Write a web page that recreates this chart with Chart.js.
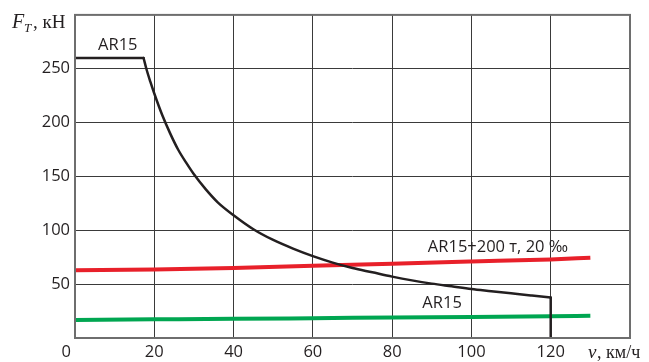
<!DOCTYPE html>
<html><head><meta charset="utf-8">
<script src="https://cdn.jsdelivr.net/npm/chart.js@4"></script>
<style>html,body{margin:0;padding:0;background:#fff}#w{width:649px;height:362px}</style>
</head><body><div id="w"><canvas id="c" width="649" height="362"></canvas></div>
<script>
const xTicks = [20, 40, 60, 80, 100, 120];
const yTicks = [50, 100, 150, 200, 250];
const blackX = [0, 17.3, 18, 19, 20, 22, 24, 26, 28, 30, 33, 36, 40, 45, 50, 55, 60, 65, 70, 75, 80, 85, 90, 95, 100, 105, 110, 115, 120, 120];
const blackY = [260, 260, 250, 238, 227, 207, 190, 175, 163, 152, 138, 126, 114, 101, 91, 83, 76, 70, 65, 61, 57, 53.5, 50.5, 48, 45.5, 43.5, 41.5, 39.5, 37.5, 0];
const redX = [0, 20, 40, 60, 80, 100, 120, 130];
const redY = [63, 63.5, 65, 67, 69, 71, 73, 74.6];
const greenX = [0, 20, 40, 60, 80, 100, 120, 130];
const greenY = [16.8, 17.3, 17.8, 18.4, 19, 19.6, 20.2, 20.7];
const labels = [
  {text: 'AR15', x: 10.8, y: 272},
  {text: 'AR15+200 т, 20 ‰', x: 106.7, y: 84.5},
  {text: 'AR15', x: 92.6, y: 32}
];
const pts = (xs, ys) => xs.map((x, i) => ({x, y: ys[i]}));
const blackPts = pts(blackX, blackY);
const n = blackPts.length;
const FONT = '"Open Sans", "Liberation Sans", sans-serif';

const overlay = {
  id: 'overlay',
  afterDraw(chart) {
    const {ctx, chartArea: a, scales: {x, y}} = chart;
    ctx.save();
    ctx.strokeStyle = '#6e6e6e';
    ctx.lineWidth = 2;
    ctx.strokeRect(a.left, a.top, a.right - a.left, a.bottom - a.top);
    ctx.fillStyle = '#231f20';
    ctx.font = '16.5px ' + FONT;
    ctx.textAlign = 'center';
    ctx.textBaseline = 'middle';
    labels.forEach(l => ctx.fillText(l.text, x.getPixelForValue(l.x), y.getPixelForValue(l.y)));
    ctx.textAlign = 'right';
    ctx.fillText('0', a.left - 4, a.bottom + 14);
    ctx.textAlign = 'left';
    ctx.font = 'italic 20px "Liberation Serif", serif';
    ctx.fillText('F', 12, 23);
    ctx.font = 'italic 13px "Liberation Serif", serif';
    ctx.fillText('T', 24, 29);
    ctx.font = '19px "Liberation Serif", serif';
    ctx.fillText(', кН', 33, 23);
    ctx.font = 'italic 19px "Liberation Serif", serif';
    ctx.fillText('ν', 588, 353);
    ctx.font = '18px "Liberation Serif", serif';
    ctx.fillText(', км/ч', 597, 353);
    ctx.restore();
  }
};

const blk = {borderColor: '#231f20', borderWidth: 2.5, showLine: true, pointRadius: 0, borderCapStyle: 'round', borderJoinStyle: 'round'};
new Chart(document.getElementById('c'), {
  type: 'scatter',
  data: {
    datasets: [
      Object.assign({data: blackPts.slice(0, 2), tension: 0}, blk),
      Object.assign({data: blackPts.slice(1, n - 1), cubicInterpolationMode: 'monotone'}, blk),
      Object.assign({data: blackPts.slice(n - 2), tension: 0}, blk),
      {data: pts(redX, redY), borderColor: '#e8202a', borderWidth: 4, showLine: true, pointRadius: 0, cubicInterpolationMode: 'monotone'},
      {data: pts(greenX, greenY), borderColor: '#00a651', borderWidth: 4, showLine: true, pointRadius: 0, cubicInterpolationMode: 'monotone'}
    ]
  },
  options: {
    responsive: false,
    animation: false,
    layout: {padding: {top: 12, right: 19, left: 0, bottom: 0}},
    plugins: {legend: {display: false}, tooltip: {enabled: false}},
    scales: {
      x: {
        type: 'linear', min: 0, max: 140,
        afterBuildTicks: s => { s.ticks = [0, ...xTicks, 140].map(v => ({value: v})); },
        afterFit: s => { s.height = 24; },
        grid: {color: '#3a3a3a', lineWidth: 1, drawTicks: false},
        border: {display: false},
        ticks: {
          callback: v => xTicks.includes(v) ? String(v) : '',
          color: '#231f20', padding: 4, maxRotation: 0,
          font: {size: 16.5, family: FONT}
        }
      },
      y: {
        min: 0, max: 300,
        afterBuildTicks: s => { s.ticks = [0, ...yTicks, 300].map(v => ({value: v})); },
        afterFit: s => { s.width = 75; },
        grid: {color: '#3a3a3a', lineWidth: 1, drawTicks: false},
        border: {display: false},
        ticks: {
          callback: v => yTicks.includes(v) ? String(v) : '',
          color: '#231f20', padding: 5,
          font: {size: 16.5, family: FONT}
        }
      }
    }
  },
  plugins: [overlay]
});
</script>
</body></html>
